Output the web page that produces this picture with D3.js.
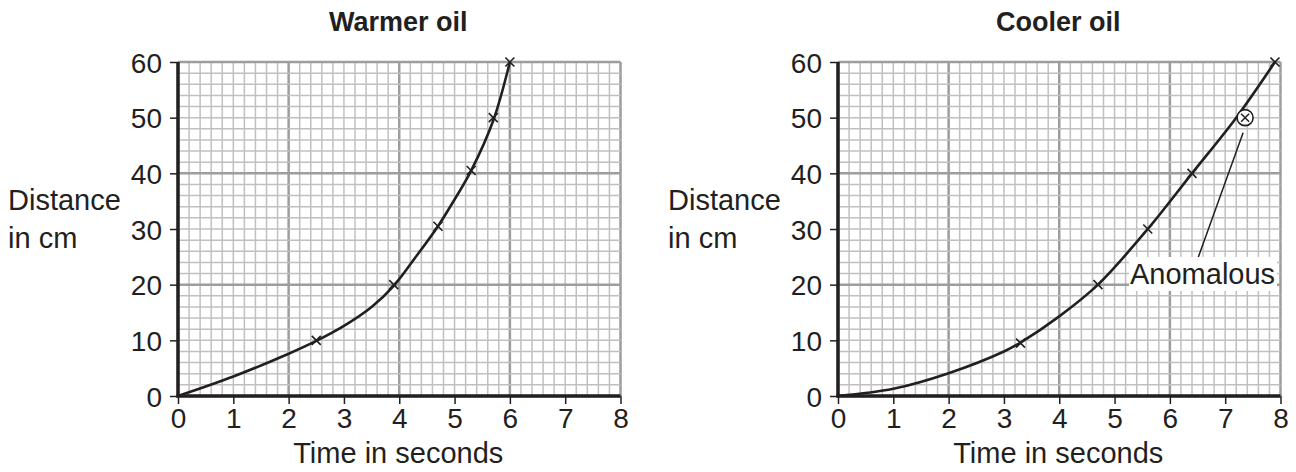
<!DOCTYPE html>
<html><head><meta charset="utf-8">
<script src="https://cdn.jsdelivr.net/npm/d3@7"></script>
<style>body{margin:0;background:#fff}svg{display:block;font-family:"Liberation Sans",Arial,sans-serif}</style>
</head><body><svg id="c" width="1296" height="472"></svg>
<script>
const titles = ["Warmer oil", "Cooler oil"];
const xTicks = [0,1,2,3,4,5,6,7,8];
const yTicks = [0,10,20,30,40,50,60];
// measured points
const warmPtsX = [2.5, 3.9, 4.7, 5.3, 5.7, 6.0];
const warmPtsY = [10, 20, 30.5, 40.5, 50, 60];
const coolPtsX = [3.3, 4.7, 5.6, 6.4, 7.9];
const coolPtsY = [9.5, 20, 30, 40, 60];
const anomalousX = 7.36, anomalousY = 50;
// line of best fit
const warmFitX = [0, 1, 2, 2.5, 3, 3.5, 3.9, 4.3, 4.7, 5.0, 5.3, 5.7, 6.0];
const warmFitY = [0, 3.5, 7.6, 9.9, 12.6, 16.0, 19.8, 25, 30.5, 35.3, 40.5, 49.5, 60];
const coolFitX = [0, 1, 2, 3, 3.3, 4, 4.7, 5.6, 6.4, 7.2, 7.9];
const coolFitY = [0, 1.3, 4.1, 8, 9.6, 14.3, 20, 30, 40, 50, 60];

const FS = 28, FL = 29;
const svg = d3.select("#c");
const panels = [
  {x0:178, x1:620.5, title:titles[0], px:warmPtsX, py:warmPtsY, fx:warmFitX, fy:warmFitY, labX:8},
  {x0:838, x1:1280.5, title:titles[1], px:coolPtsX, py:coolPtsY, fx:coolFitX, fy:coolFitY, labX:668}
];
const yTop = 62, yBot = 396;

panels.forEach((p, i) => {
  const x = d3.scaleLinear().domain([0,8]).range([p.x0, p.x1]);
  const y = d3.scaleLinear().domain([0,60]).range([yBot, yTop]);
  const g = svg.append("g");
  // grid
  const minorX = d3.range(0, 8.001, 0.2), minorY = d3.range(0, 60.001, 2);
  const isMajX = d => Math.abs(d/2 - Math.round(d/2))<1e-6;
  g.selectAll(".vx").data(minorX).join("line")
    .attr("x1", d=>x(d)).attr("x2", d=>x(d)).attr("y1", yTop).attr("y2", yBot)
    .attr("stroke", d => isMajX(d) ? "#9d9d9f" : "#c0c0c2")
    .attr("stroke-width", d => isMajX(d) ? 2.5 : 1.5);
  g.selectAll(".hy").data(minorY).join("line")
    .attr("y1", d=>y(d)).attr("y2", d=>y(d)).attr("x1", p.x0).attr("x2", p.x1)
    .attr("stroke", d => d%20===0 ? "#9d9d9f" : "#c0c0c2")
    .attr("stroke-width", d => d%20===0 ? 2.5 : 1.5);
  // axes
  const ax = g.append("g").attr("transform", `translate(0,${yBot})`)
    .call(d3.axisBottom(x).tickValues(xTicks).tickSize(8).tickSizeOuter(0).tickPadding(4));
  const ay = g.append("g").attr("transform", `translate(${p.x0},0)`)
    .call(d3.axisLeft(y).tickValues(yTicks).tickSize(8).tickSizeOuter(0).tickPadding(8));
  [ax, ay].forEach(a => {
    a.select(".domain").remove();
    a.selectAll("line").attr("stroke", "#231f20").attr("stroke-width", 1.5);
    a.selectAll("text").attr("font-size", FS).attr("fill", "#231f20")
      .attr("font-family", '"Liberation Sans",Arial,sans-serif');
  });
  ay.selectAll("text").attr("dy", "0.36em");
  g.append("line").attr("x1", p.x0).attr("x2", p.x0).attr("y1", yTop).attr("y2", yBot+1.5)
    .attr("stroke", "#231f20").attr("stroke-width", 3.5);
  g.append("line").attr("x1", p.x0-1.5).attr("x2", p.x1).attr("y1", yBot).attr("y2", yBot)
    .attr("stroke", "#231f20").attr("stroke-width", 3.5);
  // fit curve
  const fit = p.fx.map((v,k)=>[v, p.fy[k]]);
  g.append("path").datum(fit)
    .attr("d", d3.line().x(d=>x(d[0])).y(d=>y(d[1])).curve(d3.curveCatmullRom.alpha(0.5)))
    .attr("fill", "none").attr("stroke", "#231f20").attr("stroke-width", 2.6);
  // crosses
  const pts = p.px.map((v,k)=>[v, p.py[k]]);
  const s = 4.5;
  g.selectAll(".pt").data(pts).join("path")
    .attr("d", d => { const cx=x(d[0]), cy=y(d[1]);
      return `M${cx-s},${cy-s}L${cx+s},${cy+s}M${cx-s},${cy+s}L${cx+s},${cy-s}`; })
    .attr("stroke", "#231f20").attr("stroke-width", 1.6);
  // titles
  g.append("text").attr("x", (p.x0+p.x1)/2 - 1).attr("y", 31).attr("text-anchor","middle")
    .attr("font-size", 27).attr("font-weight","bold").attr("fill","#231f20").text(p.title);
  g.append("text").attr("x", (p.x0+p.x1)/2 - 1).attr("y", 463).attr("text-anchor","middle")
    .attr("font-size", FL).attr("fill","#231f20").text("Time in seconds");
  g.append("text").attr("x", p.labX).attr("y", 210).attr("font-size", FL).attr("fill","#231f20").text("Distance");
  g.append("text").attr("x", p.labX).attr("y", 248).attr("font-size", FL).attr("fill","#231f20").text("in cm");

  if (i === 1) {
    const cx = x(anomalousX), cy = y(anomalousY);
    g.append("circle").attr("cx", cx).attr("cy", cy).attr("r", 8)
      .attr("fill", "#fff").attr("stroke", "#231f20").attr("stroke-width", 1.6);
    g.append("path").attr("d", `M${cx-4},${cy-4}L${cx+4},${cy+4}M${cx-4},${cy+4}L${cx+4},${cy-4}`)
      .attr("stroke", "#231f20").attr("stroke-width", 1.5);
    g.append("line").attr("x1", cx-2).attr("y1", cy+15).attr("x2", 1198).attr("y2", 258)
      .attr("stroke", "#231f20").attr("stroke-width", 1.5);
    g.append("rect").attr("x", 1129).attr("y", 257).attr("width", 148).attr("height", 34).attr("fill", "#fff");
    g.append("text").attr("x", 1130).attr("y", 284).attr("font-size", FL).attr("fill", "#231f20").text("Anomalous");
  }
});
</script></body></html>
